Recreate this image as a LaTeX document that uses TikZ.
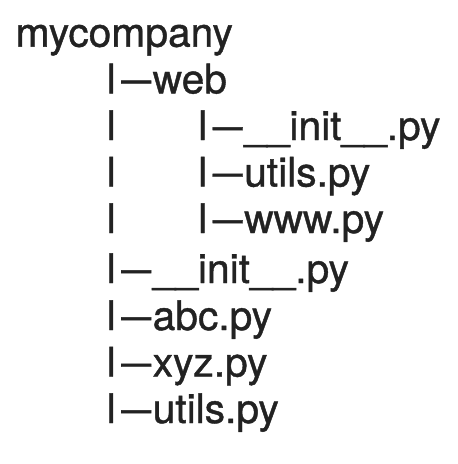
\documentclass[tikz,border=0pt]{standalone}
\usepackage{fontspec}
\setmainfont{TeX Gyre Heros}[FakeBold=1]
\usetikzlibrary{positioning}
\definecolor{inkgray}{HTML}{222222}
\newcommand{\treedash}{\kern5.5pt\resizebox{30pt}{\height}{—}\kern1.5pt}
\tikzstyle{entry} = [anchor=base west, inner sep=0pt,
		text=inkgray, font=\fontsize{40.7}{47}\selectfont]
\begin{document}
\begin{tikzpicture}[x=1pt, y=1pt]
	\useasboundingbox (0,0) rectangle (458,-464);
	\node[entry] (root) at (15.5,-46.7) {mycompany};
	\node[entry] (web) at (106.5,-93.3) {l\treedash web};
	\node[entry] (bar3) at (106.5,-140) {l};
	\node[entry] (bar4) at (106.5,-186.5) {l};
	\node[entry] (bar5) at (106.5,-233) {l};
	\node[entry] (webinit) at (198,-140) {l\treedash\_\_init\_\_.py};
	\node[entry] (webutils) at (198,-186.5) {l\treedash utils.py};
	\node[entry] (webwww) at (198,-233) {l\treedash www.py};
	\node[entry] (init) at (106.5,-283) {l\treedash\_\_init\_\_.py};
	\node[entry] (abc) at (106.5,-330) {l\treedash abc.py};
	\node[entry] (xyz) at (106.5,-376.5) {l\treedash xyz.py};
	\node[entry] (utils) at (106.5,-423) {l\treedash utils.py};
\end{tikzpicture}
\end{document}
